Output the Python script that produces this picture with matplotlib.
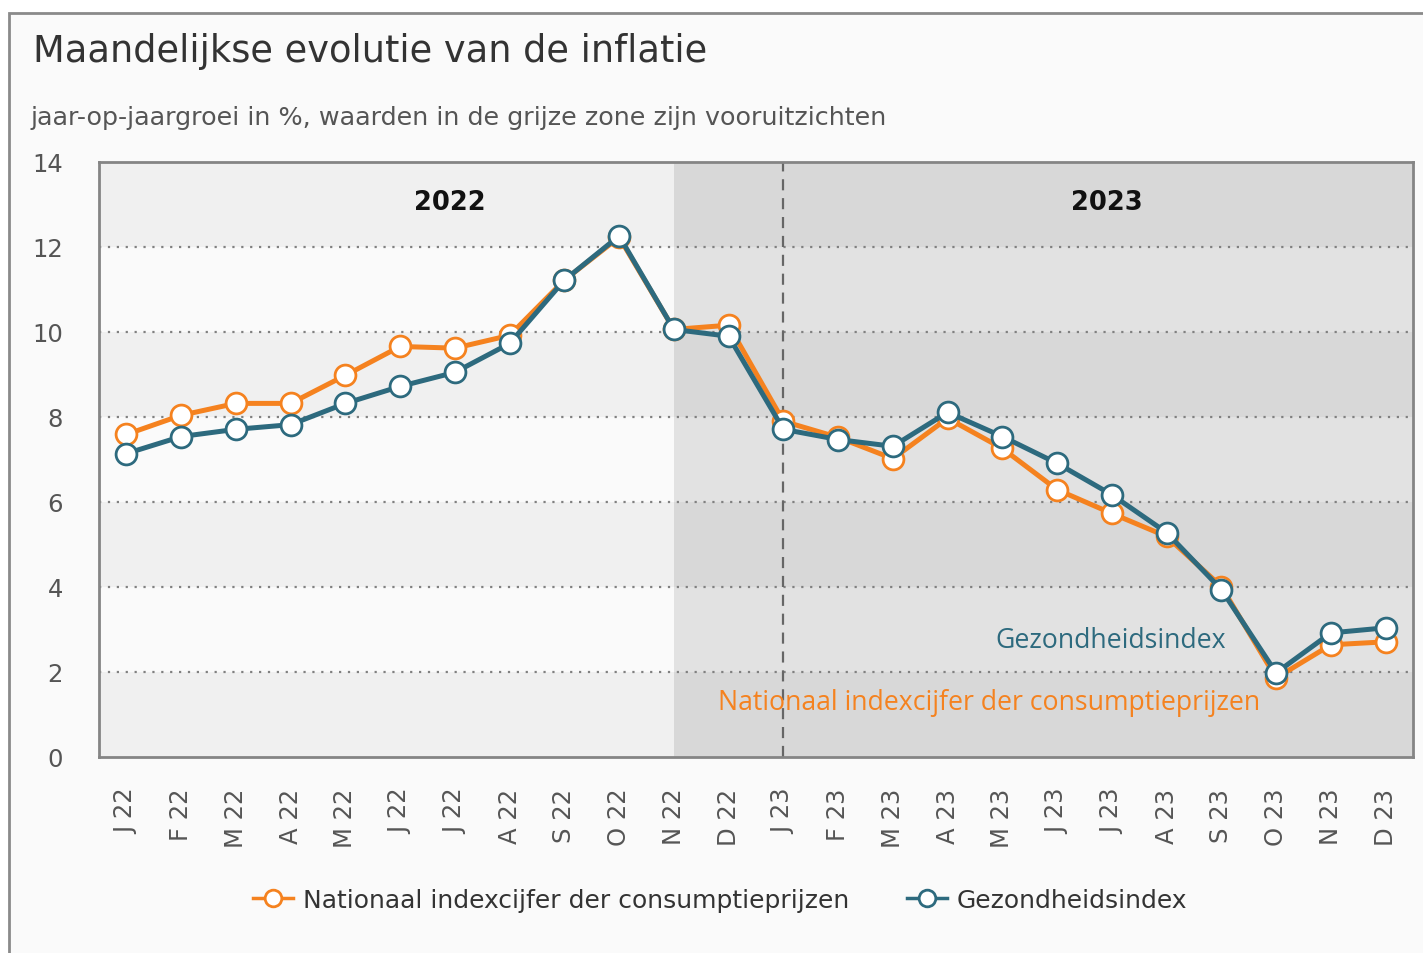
import matplotlib.pyplot as plt
from matplotlib.patches import Rectangle

# data
months = ['J 22', 'F 22', 'M 22', 'A 22', 'M 22', 'J 22', 'J 22', 'A 22', 'S 22', 'O 22', 'N 22', 'D 22',
          'J 23', 'F 23', 'M 23', 'A 23', 'M 23', 'J 23', 'J 23', 'A 23', 'S 23', 'O 23', 'N 23', 'D 23']
nicp = [7.59, 8.04, 8.32, 8.32, 8.98, 9.66, 9.62, 9.92, 11.22, 12.23, 10.06, 10.16,
        7.90, 7.52, 7.02, 7.97, 7.26, 6.29, 5.73, 5.19, 4.01, 1.86, 2.64, 2.71]
gezond = [7.14, 7.54, 7.71, 7.82, 8.32, 8.72, 9.05, 9.73, 11.22, 12.26, 10.06, 9.90,
          7.71, 7.47, 7.31, 8.11, 7.54, 6.91, 6.17, 5.28, 3.94, 1.98, 2.92, 3.04]
yticks = [0, 2, 4, 6, 8, 10, 12, 14]
forecast_start = 10  # N 22
year_split = 12      # J 23

orange = '#f5821f'
teal = '#2d6a7e'

fig = plt.figure(figsize=(14.23, 9.54), dpi=100)
fig.patch.set_facecolor('white')
# outer frame of the card
fig.patches.append(Rectangle((9 / 1423, -0.05), 1.1, 1 - 14 / 954 + 0.05, transform=fig.transFigure,
                             facecolor='#fafafa', edgecolor='#8a8a8a', linewidth=2, zorder=-10))

ax = fig.add_axes([99 / 1423, 1 - 758 / 954, (1413 - 99) / 1423, (758 - 163) / 954])
ax.set_zorder(1)
x = list(range(len(months)))

# banded background, lighter in history, darker in forecast zone
for i, y0 in enumerate(yticks[:-1]):
    dark = (i % 2 == 0)
    ax.add_patch(Rectangle((-0.5, y0), forecast_start + 0.5, 2,
                           facecolor='#f0f0f0' if dark else '#fafafa', edgecolor='none', zorder=0))
    ax.add_patch(Rectangle((forecast_start, y0), len(months) - 0.5 - forecast_start, 2,
                           facecolor='#d8d8d8' if dark else '#e2e2e2', edgecolor='none', zorder=0))

for y in yticks[1:-1]:
    ax.axhline(y, color='#808080', linestyle=(0, (1, 3)), linewidth=1.6, zorder=1)
ax.axvline(year_split, color='#666666', linestyle=(0, (5, 3.5)), linewidth=1.6, zorder=1)

ax.plot(x, nicp, color=orange, linewidth=3.6, marker='o', markersize=15,
        markerfacecolor='white', markeredgecolor=orange, markeredgewidth=2, zorder=3,
        label='Nationaal indexcijfer der consumptieprijzen')
ax.plot(x, gezond, color=teal, linewidth=3.6, marker='o', markersize=15,
        markerfacecolor='white', markeredgecolor=teal, markeredgewidth=2, zorder=4,
        label='Gezondheidsindex')

ax.set_xlim(-0.5, len(months) - 0.5)
ax.set_ylim(0, 14)
ax.set_xticks(x)
ax.set_xticklabels(months, rotation=90, fontsize=17.5, color='#555555', family='DejaVu Sans')
ax.set_yticks(yticks)
ax.set_yticklabels([str(v) for v in yticks], fontsize=17.5, color='#555555', family='DejaVu Sans')
ax.tick_params(axis='x', length=0, pad=22)
ax.tick_params(axis='y', length=0, pad=26)
for s in ax.spines.values():
    s.set_color('#858585')
    s.set_linewidth(2)

ax.text(5.9, 13.05, '2022', ha='center', va='center', fontsize=18.5, fontweight='bold',
        color='#111111', family='DejaVu Sans')
ax.text(17.9, 13.05, '2023', ha='center', va='center', fontsize=18.5, fontweight='bold',
        color='#111111', family='DejaVu Sans')
ax.text(20.09, 2.76, 'Gezondheidsindex', ha='right', va='center', fontsize=19.2,
        color=teal, family='Open Sans', zorder=5)
ax.text(20.71, 1.30, 'Nationaal indexcijfer der consumptieprijzen', ha='right', va='center',
        fontsize=19.2, color=orange, family='Open Sans', zorder=5)

fig.text(33 / 1423, 1 - 52 / 954, 'Maandelijkse evolutie van de inflatie', ha='left', va='center',
         fontsize=26.5, color='#333333', family='DejaVu Sans')
fig.text(31 / 1423, 1 - 118 / 954, 'jaar-op-jaargroei in %, waarden in de grijze zone zijn vooruitzichten',
         ha='left', va='center', fontsize=18.3, color='#555555', family='DejaVu Sans')

leg = fig.legend(loc='center', bbox_to_anchor=(720 / 1423, 1 - 901 / 954), ncol=2, frameon=False,
                 handlelength=1.6, columnspacing=2.3, handletextpad=0.4,
                 prop={'family': 'DejaVu Sans', 'size': 18})
for h in leg.legend_handles:
    h.set_markersize(12)
    h.set_linewidth(2.5)
for t in leg.get_texts():
    t.set_color('#333333')

fig.savefig('out.png', dpi=100)
